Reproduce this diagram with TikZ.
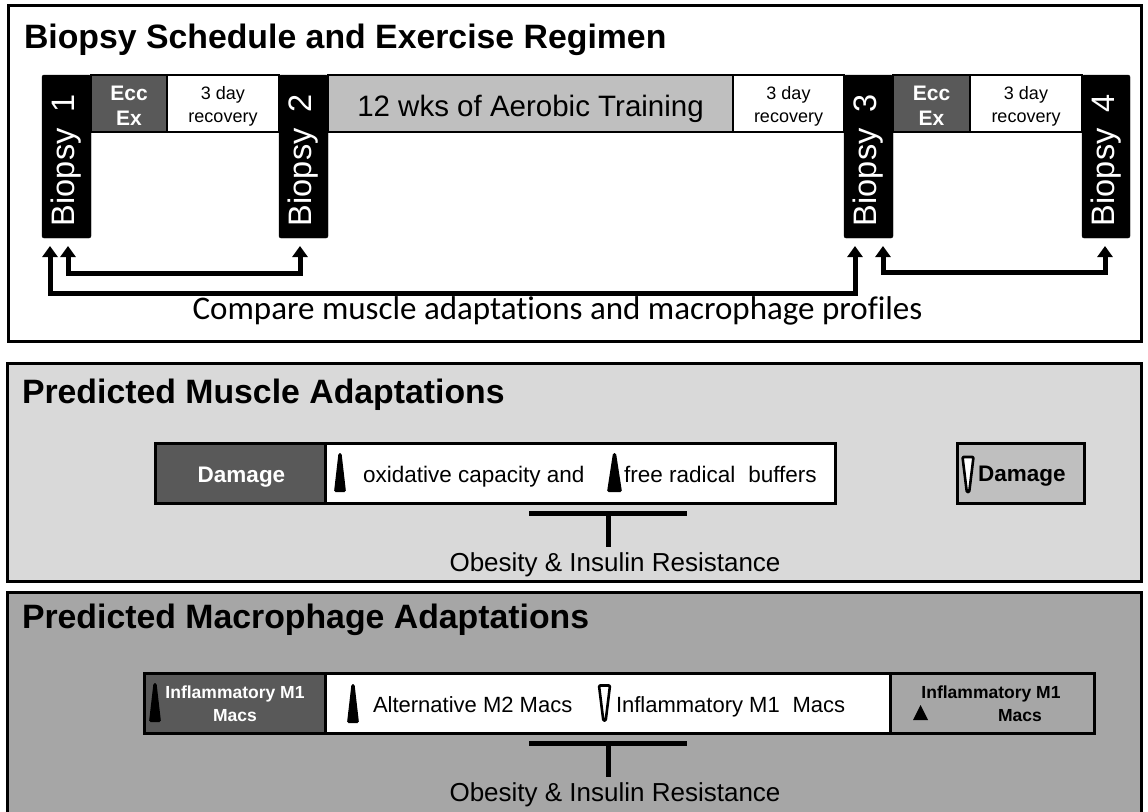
\documentclass[tikz,border=0pt]{standalone}
\usepackage{fontspec}
\setmainfont{Liberation Sans}
\newfontfamily\carlito[Ligatures=NoCommon]{Carlito}
\usetikzlibrary{arrows.meta,calc}
\definecolor{dkgray}{HTML}{595959}
\definecolor{mdgray}{HTML}{BFBFBF}
\definecolor{ltpanel}{HTML}{D9D9D9}
\definecolor{dkpanel}{HTML}{A6A6A6}
\begin{document}
\begin{tikzpicture}[x=1pt,y=-1pt,
 every node/.style={inner sep=0pt,outer sep=0pt},
 panel/.style={draw=black,line width=3pt,anchor=north west},
 seg/.style={draw=black,line width=2pt,anchor=north west,minimum height=57pt},
 seglabel/.style={align=center},
 biopsybar/.style={fill=black,draw=black,rounded corners=2pt,anchor=north west,minimum width=49pt,minimum height=163pt},
 biopsylabel/.style={text=white,rotate=90,anchor=west,font=\fontsize{32.5}{36}\selectfont},
 ecclabel/.style={seglabel,text=white,font=\bfseries\fontsize{21}{25}\selectfont},
 reclabel/.style={seglabel,font=\fontsize{18}{23}\selectfont},
 arr/.style={line width=5pt,{Triangle[width=15pt,length=11pt]}-{Triangle[width=15pt,length=11pt]}},
 ptitle/.style={anchor=base west,font=\bfseries\fontsize{33.8}{38}\selectfont},
 rowbox/.style={draw=black,line width=3pt,anchor=north west,minimum height=60pt},
 bodytext/.style={anchor=base west,font=\fontsize{22.5}{27}\selectfont},
 smallbold/.style={font=\bfseries\fontsize{17.5}{23}\selectfont,align=center},
 obtext/.style={anchor=base,font=\fontsize{26}{30}\selectfont},
 tbar/.style={line width=5pt},
 uptri/.pic={\fill[black,rounded corners=1.5pt] (-6,19.5) -- (-1.5,-19.5) -- (1.5,-19.5) -- (6,19.5) -- cycle;},
 wideuptri/.pic={\fill[black,rounded corners=1.5pt] (-7.5,19.5) -- (-1.5,-19.5) -- (1.5,-19.5) -- (7.5,19.5) -- cycle;},
 downtri/.pic={\draw[fill=white,line width=2.6pt,line join=round,rounded corners=1pt] (-5.5,-17.5) -- (5.5,-17.5) -- (1.2,17.5) -- (-1.2,17.5) -- cycle;},
 smalltri/.pic={\fill[black] (-7.5,7.5) -- (0,-7.5) -- (7.5,7.5) -- cycle;}
]
\useasboundingbox (0,0) rectangle (1148,811);

% ---------- Panel 1 ----------
\node[panel,fill=white,minimum width=1133pt,minimum height=336pt] (p1) at (8,5) {};
\node[ptitle] (t1) at (24,48) {Biopsy Schedule and Exercise Regimen};

\node[seg,fill=dkgray,minimum width=76pt] (ecc1) at (91,75) {};
\node[seg,fill=white,minimum width=112pt] (rec1) at (167,75) {};
\node[seg,fill=mdgray,minimum width=405pt] (aer) at (328,75) {};
\node[seg,fill=white,minimum width=111pt] (rec2) at (733,75) {};
\node[seg,fill=dkgray,minimum width=77pt] (ecc2) at (893,75) {};
\node[seg,fill=white,minimum width=112pt] (rec3) at (970,75) {};
\node[ecclabel] (ecc1t) at ($(ecc1.center)+(0,2.5)$) {Ecc\\Ex};
\node[reclabel] (rec1t) at ($(rec1.center)+(0,2.5)$) {3 day\\recovery};
\node[font=\fontsize{29.5}{33}\selectfont,anchor=base] (aert) at (530.5,116) {12 wks of Aerobic Training};
\node[reclabel] (rec2t) at ($(rec2.center)+(0,2.5)$) {3 day\\recovery};
\node[ecclabel] (ecc2t) at ($(ecc2.center)+(0,2.5)$) {Ecc\\Ex};
\node[reclabel] (rec3t) at ($(rec3.center)+(0,2.5)$) {3 day\\recovery};

\node[biopsybar] (b1) at (42,75) {};
\node[biopsybar] (b2) at (279,75) {};
\node[biopsybar] (b3) at (844,75) {};
\node[biopsybar,minimum width=48pt] (b4) at (1082,75) {};
\node[biopsylabel] (l1) at (66.5,226) {Biopsy\hspace{0.5em}1};
\node[biopsylabel] (l2) at (303.5,226) {Biopsy\hspace{0.5em}2};
\node[biopsylabel] (l3) at (868.5,226) {Biopsy\hspace{0.5em}3};
\node[biopsylabel] (l4) at (1106,226) {Biopsy\hspace{0.5em}4};

\coordinate (o1) at (50,246);
\coordinate (o3) at (855,246);
\coordinate (i1) at (68,246);
\coordinate (i2) at (300,246);
\coordinate (r3) at (883,246);
\coordinate (r4) at (1105,246);
\draw[arr] (o1) -- ++(0,47) -| (o3);
\draw[arr] (i1) -- ++(0,27) -| (i2);
\draw[arr] (r3) -- ++(0,26) -| (r4);

\node[anchor=base,font=\carlito\fontsize{33}{38}\selectfont] (cmp) at (557.5,319) {Compare muscle adaptations and macrophage profiles};

% ---------- Panel 2 ----------
\node[panel,fill=ltpanel,minimum width=1134pt,minimum height=218pt] (p2) at (7,363) {};
\node[ptitle] (t2) at (22,403) {Predicted Muscle Adaptations};

\node[rowbox,fill=dkgray,minimum width=170pt] (dmg1) at (155,443) {};
\node[anchor=base,text=white,font=\bfseries\fontsize{22.5}{27}\selectfont] (dmg1t) at (241.5,482) {Damage};
\node[rowbox,fill=white,minimum width=510pt] (oxbox) at (325,443) {};
\pic at (340,472.5) {uptri};
\node[bodytext] (ox) at (363,482) {oxidative capacity and};
\pic at (614.5,472.5) {wideuptri};
\node[bodytext] (fr) at (624,482) {free radical\hspace{0.3em} buffers};
\node[rowbox,fill=mdgray,minimum width=127pt] (dmg2) at (957,443) {};
\pic at (968,474.5) {downtri};
\node[anchor=base west,font=\bfseries\fontsize{22.5}{27}\selectfont] (dmg2t) at (978,481) {Damage};

\coordinate (tl1) at (529,513);
\coordinate (tr1) at (687,513);
\coordinate (tm1) at (608,513);
\node[obtext] (ob1) at (615,571) {Obesity \& Insulin Resistance};
\draw[tbar] (tl1) -- (tr1);
\draw[tbar] (tm1) -- (608,547);

% ---------- Panel 3 ----------
\node[panel,fill=dkpanel,minimum width=1134pt,minimum height=240pt] (p3) at (7,592) {};
\node[ptitle] (t3) at (22,628) {Predicted Macrophage Adaptations};

\node[rowbox,fill=dkgray,minimum width=181pt] (m1a) at (144,673) {};
\node[smallbold,text=white] (m1at) at (235,704) {Inflammatory M1\\Macs};
\pic at (155,702.5) {uptri};
\node[rowbox,fill=white,minimum width=565pt] (m2) at (325,673) {};
\pic at (353,703.5) {uptri};
\node[bodytext,font=\fontsize{22}{27}\selectfont] (alt) at (373,712) {Alternative M2 Macs};
\pic at (604.5,703) {downtri};
\node[bodytext,font=\fontsize{22}{27}\selectfont] (infl) at (616,712) {Inflammatory M1\hspace{0.3em} Macs};
\node[rowbox,fill=dkpanel,minimum width=204pt] (m1b) at (890,673) {};
\node[smallbold,anchor=base] (m1bt) at (991,698) {Inflammatory M1};
\node[smallbold,anchor=base] (m1bm) at (1020,721) {Macs};
\pic at (920.5,712.5) {smalltri};

\coordinate (tl2) at (529,743);
\coordinate (tr2) at (687,743);
\coordinate (tm2) at (608,743);
\node[obtext] (ob2) at (615,801) {Obesity \& Insulin Resistance};
\draw[tbar] (tl2) -- (tr2);
\draw[tbar] (tm2) -- (608,777);
\end{tikzpicture}
\end{document}
